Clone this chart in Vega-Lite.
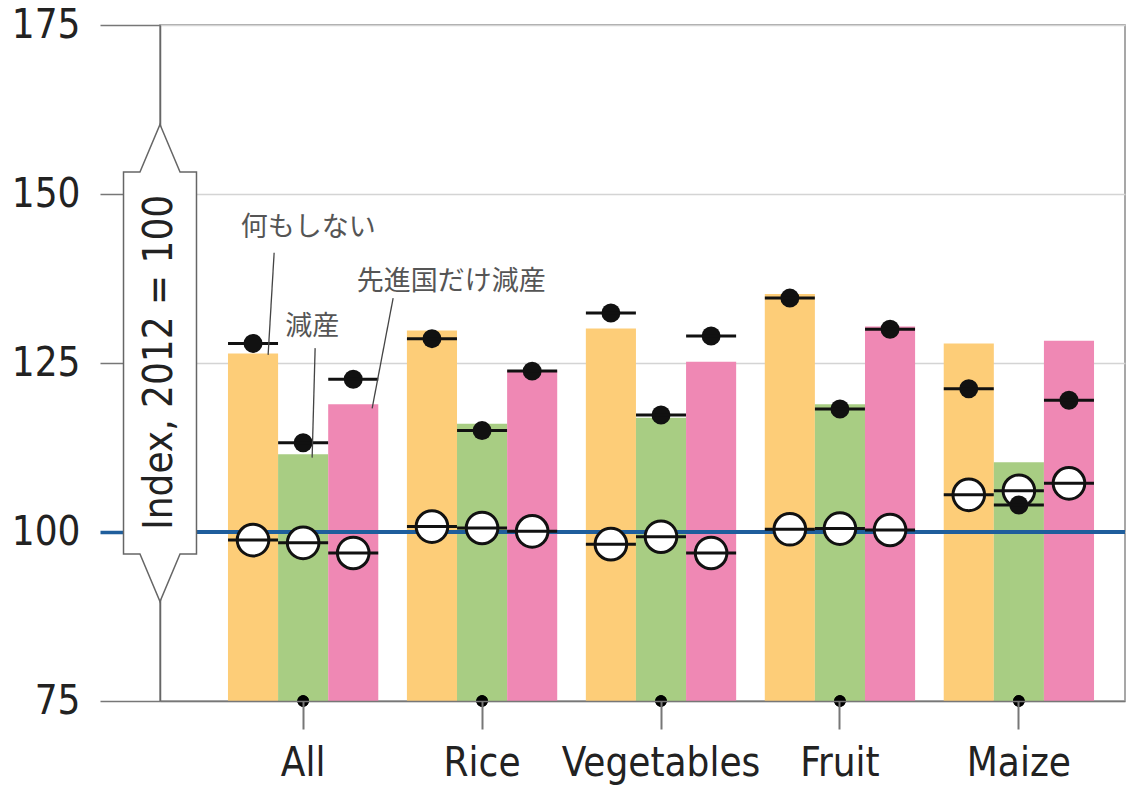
{
  "$schema": "https://vega.github.io/schema/vega-lite/v6.json",
  "width": 965,
  "height": 676,
  "autosize": {"type": "none"},
  "padding": {"left": 160, "top": 25, "right": 1, "bottom": 93},
  "background": "white",
  "config": {
    "font": "DejaVu Sans Condensed, Roboto, sans-serif",
    "view": {"stroke": "#8a8a8a", "strokeWidth": 1.5}
  },
  "datasets": {
    "crops": [
      {"crop": "All", "scenario": "何もしない", "bar": 126.4, "dot": 127.9, "ring": 98.8},
      {"crop": "All", "scenario": "減産", "bar": 111.5, "dot": 113.2, "ring": 98.4},
      {"crop": "All", "scenario": "先進国だけ減産", "bar": 118.9, "dot": 122.6, "ring": 96.9},
      {"crop": "Rice", "scenario": "何もしない", "bar": 129.8, "dot": 128.6, "ring": 100.8},
      {"crop": "Rice", "scenario": "減産", "bar": 116.0, "dot": 115.0, "ring": 100.6},
      {"crop": "Rice", "scenario": "先進国だけ減産", "bar": 123.9, "dot": 123.8, "ring": 100.1},
      {"crop": "Vegetables", "scenario": "何もしない", "bar": 130.1, "dot": 132.4, "ring": 98.2},
      {"crop": "Vegetables", "scenario": "減産", "bar": 116.9, "dot": 117.3, "ring": 99.3},
      {"crop": "Vegetables", "scenario": "先進国だけ減産", "bar": 125.2, "dot": 129.0, "ring": 96.9},
      {"crop": "Fruit", "scenario": "何もしない", "bar": 135.2, "dot": 134.6, "ring": 100.4},
      {"crop": "Fruit", "scenario": "減産", "bar": 118.9, "dot": 118.2, "ring": 100.5},
      {"crop": "Fruit", "scenario": "先進国だけ減産", "bar": 130.4, "dot": 130.0, "ring": 100.3},
      {"crop": "Maize", "scenario": "何もしない", "bar": 127.9, "dot": 121.2, "ring": 105.5},
      {"crop": "Maize", "scenario": "減産", "bar": 110.3, "dot": 104.0, "ring": 106.1},
      {"crop": "Maize", "scenario": "先進国だけ減産", "bar": 128.3, "dot": 119.5, "ring": 107.2}
    ],
    "notes": [
      {"note": "何もしない"},
      {"note": "減産"},
      {"note": "先進国だけ減産"}
    ]
  },
  "resolve": {"scale": {"x": "independent"}},
  "layer": [
    {
      "data": {"name": "crops"},
      "layer": [
        {
          "mark": {"type": "bar"},
          "encoding": {
            "x": {
              "field": "crop",
              "type": "nominal",
              "sort": ["All", "Rice", "Vegetables", "Fruit", "Maize"],
              "scale": {
                "domain": ["All", "Rice", "Vegetables", "Fruit", "Maize"],
                "paddingInner": 0.16, "paddingOuter": 0.2765, "align": 0.687
              },
              "axis": {
                "title": null,
                "labelAngle": 0,
                "labelFontSize": 40,
                "labelColor": "#222",
                "labelPadding": 14,
                "labelLimit": 400,
                "domainColor": "#777",
                "domainWidth": 1.5,
                "tickColor": "#777",
                "tickWidth": 2,
                "tickSize": 28,
                "zindex": 1
              }
            },
            "xOffset": {
              "field": "scenario",
              "type": "nominal",
              "sort": ["何もしない", "減産", "先進国だけ減産"],
              "scale": {"domain": ["何もしない", "減産", "先進国だけ減産"], "paddingInner": 0, "paddingOuter": 0}
            },
            "y": {
              "field": "bar",
              "type": "quantitative",
              "title": null,
              "scale": {"domain": [75, 175], "nice": false, "zero": false},
              "axis": {
                "values": [75, 100, 125, 150, 175],
                "labelFontSize": 40,
                "labelColor": "#222",
                "labelPadding": 20,
                "domainColor": "#666",
                "domainWidth": 1.5,
                "tickSize": 60,
                "tickColor": {"condition": {"test": "datum.value === 100", "value": "#1f5e9c"}, "value": "#777"},
                "tickWidth": {"condition": {"test": "datum.value === 100", "value": 3.5}, "value": 1.5},
                "grid": true,
                "gridColor": "#d4d4d4",
                "gridWidth": 1.5
              }
            },
            "y2": {"datum": 75},
            "color": {
              "field": "scenario",
              "type": "nominal",
              "legend": null,
              "scale": {
                "domain": ["何もしない", "減産", "先進国だけ減産"],
                "range": ["#fdcd78", "#a8cd83", "#ef88b4"]
              }
            }
          }
        },
        {
          "mark": {"type": "rule", "color": "#1f5e9c", "strokeWidth": 3.5},
          "encoding": {"y": {"datum": 100}}
        },
        {
          "mark": {"type": "point", "shape": "circle", "filled": true, "fill": "white", "stroke": "#111", "strokeWidth": 3, "size": 1000, "opacity": 1},
          "encoding": {
            "x": {"field": "crop", "type": "nominal", "sort": ["All", "Rice", "Vegetables", "Fruit", "Maize"]},
            "xOffset": {"field": "scenario", "type": "nominal", "sort": ["何もしない", "減産", "先進国だけ減産"]},
            "y": {"field": "ring", "type": "quantitative", "title": null}
          }
        },
        {
          "mark": {"type": "circle", "color": "#111", "size": 360, "opacity": 1},
          "encoding": {
            "x": {"field": "crop", "type": "nominal", "sort": ["All", "Rice", "Vegetables", "Fruit", "Maize"]},
            "xOffset": {"field": "scenario", "type": "nominal", "sort": ["何もしない", "減産", "先進国だけ減産"]},
            "y": {"field": "dot", "type": "quantitative", "title": null}
          }
        },
        {
          "mark": {"type": "tick", "color": "#111", "thickness": 3, "size": 50, "opacity": 1},
          "encoding": {
            "x": {"field": "crop", "type": "nominal", "sort": ["All", "Rice", "Vegetables", "Fruit", "Maize"]},
            "xOffset": {"field": "scenario", "type": "nominal", "sort": ["何もしない", "減産", "先進国だけ減産"]},
            "y": {"field": "ring", "type": "quantitative", "title": null}
          }
        },
        {
          "mark": {"type": "tick", "color": "#111", "thickness": 3, "size": 50, "opacity": 1},
          "encoding": {
            "x": {"field": "crop", "type": "nominal", "sort": ["All", "Rice", "Vegetables", "Fruit", "Maize"]},
            "xOffset": {"field": "scenario", "type": "nominal", "sort": ["何もしない", "減産", "先進国だけ減産"]},
            "y": {"field": "dot", "type": "quantitative", "title": null}
          }
        },
        {
          "mark": {"type": "circle", "color": "#000", "size": 130, "opacity": 1},
          "encoding": {
            "x": {"field": "crop", "type": "nominal", "sort": ["All", "Rice", "Vegetables", "Fruit", "Maize"]},
            "y": {"datum": 75}
          }
        },
        {
          "data": {"name": "notes"},
          "transform": [{"filter": "datum.note === '何もしない'"}],
          "layer": [
            {
              "mark": {"type": "rule", "color": "#444", "strokeWidth": 1.3, "xOffset": -29, "x2Offset": -35},
              "encoding": {"x": {"datum": "All"}, "x2": {"datum": "All"}, "y": {"datum": 141.3}, "y2": {"datum": 126.2}}
            },
            {
              "mark": {"type": "text", "font": "Noto Sans CJK JP", "fontSize": 27, "color": "#555", "align": "center", "baseline": "middle", "xOffset": 5},
              "encoding": {"x": {"datum": "All"}, "y": {"datum": 145}, "text": {"field": "note"}}
            }
          ]
        },
        {
          "data": {"name": "notes"},
          "transform": [{"filter": "datum.note === '減産'"}],
          "layer": [
            {
              "mark": {"type": "rule", "color": "#444", "strokeWidth": 1.3, "xOffset": 12, "x2Offset": 9},
              "encoding": {"x": {"datum": "All"}, "x2": {"datum": "All"}, "y": {"datum": 127.2}, "y2": {"datum": 111}}
            },
            {
              "mark": {"type": "text", "font": "Noto Sans CJK JP", "fontSize": 27, "color": "#555", "align": "center", "baseline": "middle", "xOffset": 9},
              "encoding": {"x": {"datum": "All"}, "y": {"datum": 130.3}, "text": {"field": "note"}}
            }
          ]
        },
        {
          "data": {"name": "notes"},
          "transform": [{"filter": "datum.note === '先進国だけ減産'"}],
          "layer": [
            {
              "mark": {"type": "rule", "color": "#444", "strokeWidth": 1.3, "xOffset": 90, "x2Offset": 69},
              "encoding": {"x": {"datum": "All"}, "x2": {"datum": "All"}, "y": {"datum": 134.6}, "y2": {"datum": 118.3}}
            },
            {
              "mark": {"type": "text", "font": "Noto Sans CJK JP", "fontSize": 27, "color": "#555", "align": "center", "baseline": "middle", "xOffset": 148},
              "encoding": {"x": {"datum": "All"}, "y": {"datum": 137}, "text": {"field": "note"}}
            }
          ]
        }
      ]
    },
    {
      "data": {"values": [{"label": "Index, 2012 = 100"}]},
      "layer": [
        {
          "mark": {
            "type": "point",
            "shape": "M0,-1L0.084,-0.801L0.153,-0.801L0.153,0.801L0.084,0.801L0,1L-0.084,0.801L-0.153,0.801L-0.153,-0.801L-0.084,-0.801Z",
            "size": 227529,
            "filled": true,
            "fill": "white",
            "stroke": "#666",
            "strokeWidth": 1.5,
            "opacity": 1
          },
          "encoding": {
            "x": {"datum": 0, "type": "quantitative", "scale": {"domain": [0, 1]}, "axis": null},
            "y": {"datum": 125}
          }
        },
        {
          "mark": {"type": "text", "angle": 270, "fontSize": 40, "color": "#222", "align": "center", "baseline": "middle"},
          "encoding": {
            "x": {"datum": 0, "type": "quantitative"},
            "y": {"datum": 125.1},
            "text": {"field": "label"}
          }
        }
      ]
    }
  ]
}
